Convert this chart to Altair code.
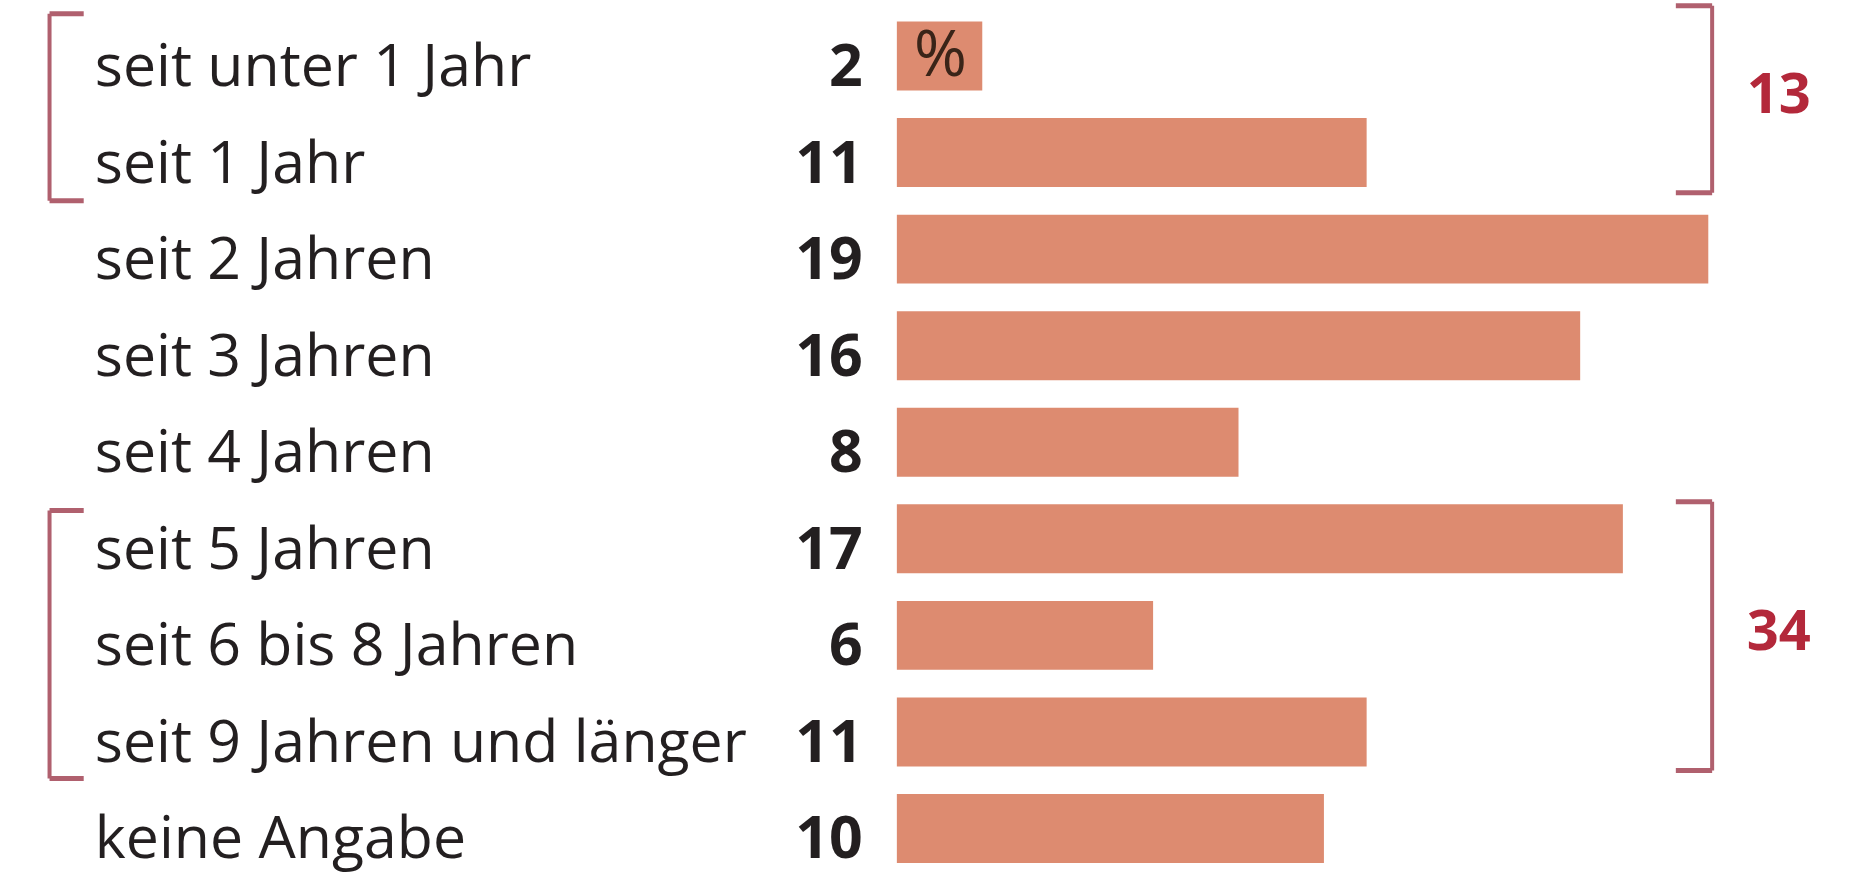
import altair as alt
import pandas as pd

categories = [
    "seit unter 1 Jahr",
    "seit 1 Jahr",
    "seit 2 Jahren",
    "seit 3 Jahren",
    "seit 4 Jahren",
    "seit 5 Jahren",
    "seit 6 bis 8 Jahren",
    "seit 9 Jahren und länger",
    "keine Angabe",
]
values = [2, 11, 19, 16, 8, 17, 6, 11, 10]
group_labels = ["13", "34"]
group_first = [0, 5]
group_last = [1, 7]
unit_label = "%"

BAR_COLOR = "#dd8b70"
TEXT_COLOR = "#231f20"
BRACKET_COLOR = "#b0606e"
GROUP_TEXT_COLOR = "#b3283a"

half = 0.357
df = pd.DataFrame({
    "row": list(range(len(categories))),
    "label": categories,
    "value": values,
})
df["y0"] = df["row"] - half
df["y1"] = df["row"] + half

# bracket geometry (layout, in row units)
top_off_left = [-0.437, -0.292]
bot_off_left = [0.499, 0.482]
top_off_right = [-0.52, -0.385]
bot_off_right = [0.416, 0.399]
XL, XL2 = -19.84, -19.04
XR, XR2 = 19.09, 18.24

vert, horiz, gtext = [], [], []
for i, lab in enumerate(group_labels):
    s, e = group_first[i], group_last[i]
    lt, lb = s + top_off_left[i], e + bot_off_left[i]
    rt, rb = s + top_off_right[i], e + bot_off_right[i]
    vert.append({"x": XL, "y": lt, "y2": lb})
    vert.append({"x": XR, "y": rt, "y2": rb})
    horiz += [
        {"x": XL, "x2": XL2, "y": lt},
        {"x": XL, "x2": XL2, "y": lb},
        {"x": XR2, "x2": XR, "y": rt},
        {"x": XR2, "x2": XR, "y": rb},
    ]
    gtext.append({"x": 19.9, "y": (rt + rb) / 2 - 0.03, "t": lab})

vdf = pd.DataFrame(vert)
hdf = pd.DataFrame(horiz)
gdf = pd.DataFrame(gtext)

xscale = alt.Scale(domain=[-21.0, 22.88], nice=False, zero=False)
yscale = alt.Scale(domain=[-0.58, 8.461], nice=False, zero=False, reverse=True)

bars = alt.Chart(df).mark_bar(color=BAR_COLOR).encode(
    x=alt.X("zero:Q", scale=xscale, axis=None),
    x2="value:Q",
    y=alt.Y("y0:Q", scale=yscale, axis=None),
    y2="y1:Q",
).transform_calculate(zero="0")

labels = alt.Chart(df).mark_text(
    align="left", baseline="alphabetic", dy=30,
    font="Open Sans", fontSize=59, color=TEXT_COLOR,
).encode(
    x=alt.X(datum=-18.78, scale=xscale),
    y=alt.Y("row:Q", scale=yscale),
    text="label:N",
)

nums = alt.Chart(df).mark_text(
    align="right", baseline="alphabetic", dy=30,
    font="Open Sans", fontSize=59, fontWeight="bold", color=TEXT_COLOR,
).encode(
    x=alt.X(datum=-0.80, scale=xscale),
    y=alt.Y("row:Q", scale=yscale),
    text="value:Q",
)

unit = alt.Chart(df.head(1)).mark_text(
    align="left", baseline="alphabetic", dy=20,
    font="Open Sans", fontSize=64, color="#3a2418",
).encode(
    x=alt.X(datum=0.40, scale=xscale),
    y=alt.Y("row:Q", scale=yscale),
    text=alt.value(unit_label),
)

vlines = alt.Chart(vdf).mark_rule(color=BRACKET_COLOR, strokeWidth=4).encode(
    x=alt.X("x:Q", scale=xscale),
    y=alt.Y("y:Q", scale=yscale),
    y2="y2:Q",
)
hlines = alt.Chart(hdf).mark_rule(color=BRACKET_COLOR, strokeWidth=5).encode(
    x=alt.X("x:Q", scale=xscale),
    x2="x2:Q",
    y=alt.Y("y:Q", scale=yscale),
)
gtxt = alt.Chart(gdf).mark_text(
    align="left", baseline="middle",
    font="Open Sans", fontSize=56, fontWeight="bold", color=GROUP_TEXT_COLOR,
).encode(
    x=alt.X("x:Q", scale=xscale),
    y=alt.Y("y:Q", scale=yscale),
    text="t:N",
)

chart = alt.layer(bars, labels, nums, unit, vlines, hlines, gtxt).properties(
    width=1874, height=873, padding=0, autosize=alt.AutoSizeParams(type="none"),
    background="white",
).configure_view(stroke=None)

chart.save("out.html", embed_options={"renderer": "svg", "actions": False})
